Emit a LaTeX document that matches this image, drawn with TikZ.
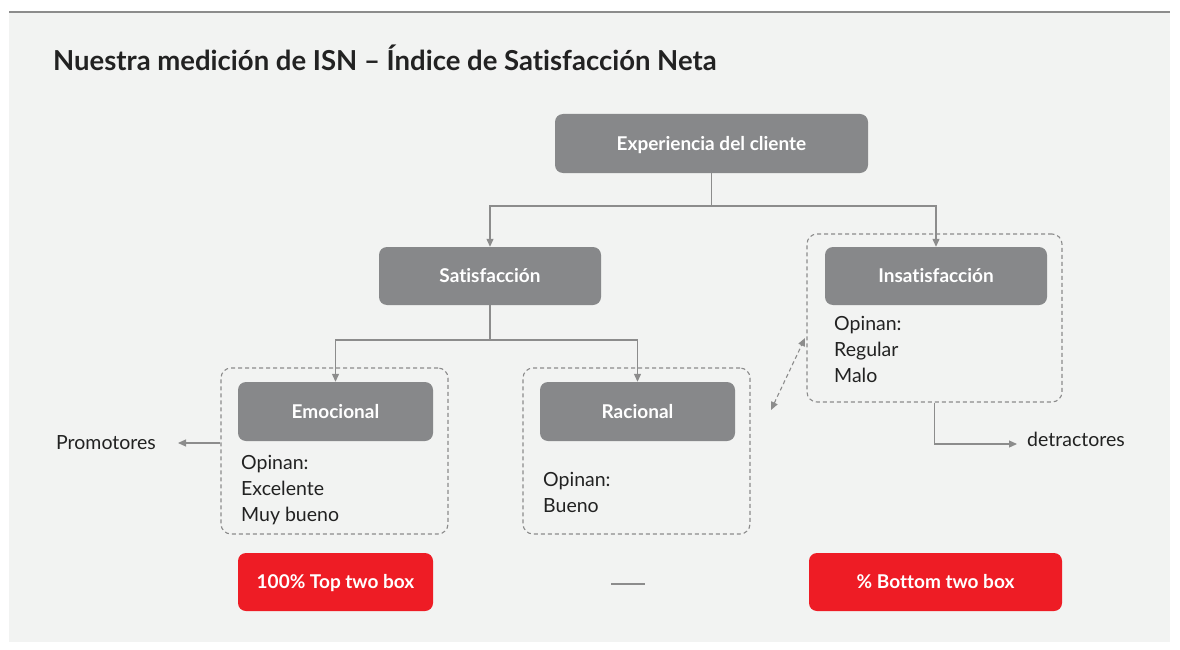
\documentclass[tikz,border=0pt]{standalone}
\usepackage{fontspec}
\setmainfont{Lato}[Ligatures={NoCommon}]
\usetikzlibrary{arrows.meta}
\definecolor{panel}{HTML}{F2F3F2}
\definecolor{boxgray}{HTML}{87888A}
\definecolor{linegray}{HTML}{8C8C8C}
\definecolor{txt}{HTML}{222222}
\definecolor{red1}{HTML}{EE1C25}
\tikzset{
  graybox/.style={fill=boxgray, rounded corners=8pt, text=white, font=\bfseries\fontsize{19}{22}\selectfont, inner sep=0pt, text height=14pt, text depth=1pt},
  redbox/.style={fill=red1, rounded corners=8pt, text=white, font=\bfseries\fontsize{19}{22}\selectfont, inner sep=0pt, text height=14pt, text depth=1pt},
  dashbox/.style={draw=linegray, dashed, dash pattern=on 4pt off 3pt, line width=1.1pt, rounded corners=10pt},
  conn/.style={draw=linegray, line width=1.2pt, -{Triangle[length=8pt,width=7pt]}},
  plain/.style={draw=linegray, line width=1.2pt},
  body/.style={text=txt, font=\fontsize{19.5}{26}\selectfont, inner sep=0pt, align=left}
}
\begin{document}
\begin{tikzpicture}[x=1pt,y=-1pt]
\useasboundingbox (0,0) rectangle (1180,650);
\fill[white] (0,0) rectangle (1180,650);
\fill[panel] (9,12) rectangle (1170,642);
\draw[linegray, line width=2.5pt] (9,12) -- (1170,12);
\node[anchor=base west, text=txt, font=\bfseries\fontsize{27.5}{30}\selectfont, inner sep=0pt] (title) at (53,71) {Nuestra medición de ISN – Índice de Satisfacción Neta};

% dashed groups
\node[dashbox, minimum width=255pt, minimum height=168pt] (gins) at (934.5,318) {};
\node[dashbox, minimum width=227pt, minimum height=166pt] (gemo) at (334.5,451) {};
\node[dashbox, minimum width=227pt, minimum height=166pt] (grac) at (636.5,451) {};

% gray boxes
\node[graybox, minimum width=313pt, minimum height=59pt] (exp) at (711.5,143.5) {Experiencia del cliente};
\node[graybox, minimum width=222pt, minimum height=58pt] (sat) at (490,276) {Satisfacción};
\node[graybox, minimum width=222pt, minimum height=58pt] (ins) at (936,276) {Insatisfacción};
\node[graybox, minimum width=195pt, minimum height=59pt] (emo) at (335.5,411.5) {Emocional};
\node[graybox, minimum width=195pt, minimum height=59pt] (rac) at (637.5,411.5) {Racional};

% body texts
\node[body, anchor=north west] (tins) at (834,316) {Opinan:\\Regular\\Malo};
\node[body, anchor=north west] (temo) at (241,455) {Opinan:\\Excelente\\Muy bueno};
\node[body, anchor=north west] (trac) at (543,472) {Opinan:\\Bueno};

\node[body, anchor=west] (prom) at (56,443) {Promotores};
\node[body, anchor=west] (detr) at (1027,439) {detractores};

% red boxes
\node[redbox, minimum width=195pt, minimum height=58pt] (top) at (335.5,582) {100\% Top two box};
\node[redbox, minimum width=253pt, minimum height=58pt] (bot) at (935.5,582) {\% Bottom two box};
\coordinate (d1) at (611,584);
\coordinate (d2) at (645,584);
\draw[plain, line width=1.5pt] (d1) -- (d2);

% connectors
\coordinate (j1) at (711.5,206);
\draw[plain] (exp.south) -- (j1);
\draw[conn] (j1) -| (sat.north);
\draw[conn] (j1) -| (ins.north);
\coordinate (j2) at (490,340);
\draw[plain] (sat.south) -- (j2);
\draw[conn] (j2) -| (emo.north);
\draw[conn] (j2) -| (rac.north);

\coordinate (pa) at (178,443);
\draw[conn] (gemo.west |- pa) -- (pa);
\coordinate (da) at (1017,444);
\draw[conn] (gins.south) |- (da);

\coordinate (x1) at (771,410);
\coordinate (x2) at (805,338);
\draw[draw=linegray, line width=1.1pt, dash pattern=on 4pt off 3pt, {Triangle[length=8pt,width=7pt]}-{Triangle[length=8pt,width=7pt]}] (x1) -- (x2);
\end{tikzpicture}
\end{document}
